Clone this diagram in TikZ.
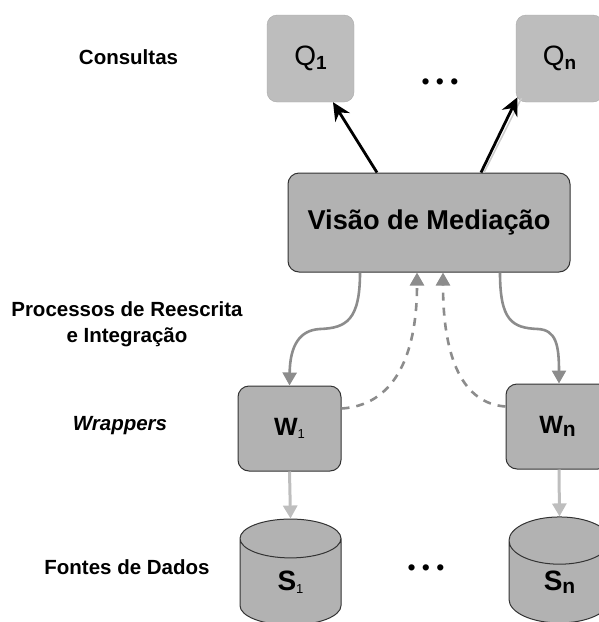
\documentclass[tikz,border=0pt]{standalone}
\usepackage{fontspec}
\setmainfont{Liberation Sans}
\usepackage{tikz}
\usetikzlibrary{arrows.meta, positioning, shapes.geometric, calc}

\definecolor{boxgray}{HTML}{B2B2B2}
\definecolor{querygray}{HTML}{BDBDBD}
\definecolor{flowgray}{HTML}{8C8C8C}
\definecolor{datagray}{HTML}{BEBEBE}
\newcommand{\lowtxt}[2]{\raisebox{-3.5pt}{\fontsize{#1}{#1}\selectfont #2}}

\tikzset{
  query/.style={draw=querygray!90!black, fill=querygray, rounded corners=10pt, minimum width=87pt, minimum height=87pt, inner sep=0pt},
  wrapbox/.style={draw=black!80, line width=1pt, fill=boxgray, rounded corners=11pt, minimum width=103pt, minimum height=85pt, inner sep=0pt},
  source/.style={cylinder, shape border rotate=90, shape aspect=1.5, draw=black!80, line width=1pt, fill=boxgray, minimum width=101pt, minimum height=106pt, inner sep=0pt},
  sidelabel/.style={font=\bfseries\fontsize{20.5}{26}\selectfont, align=center},
  dots/.style={font=\fontsize{23}{23}\selectfont},
  answer/.style={-{Stealth[length=18pt,width=17pt]}, line width=2.8pt, black},
  rewrite/.style={-{Triangle[length=13pt,width=14pt]}, line width=2.6pt, flowgray},
  result/.style={-{Triangle[length=13pt,width=14pt]}, line width=2.6pt, flowgray, dash pattern=on 8pt off 7pt},
  fetch/.style={-{Triangle[length=13pt,width=14pt]}, line width=3pt, datagray}
}

\begin{document}
\begin{tikzpicture}[x=1pt, y=-1pt]
  \clip (0,0) rectangle (599,622);

  % Queries
  \node[query] (q1) at (310.5,58.5) {\raisebox{3pt}{\fontsize{28}{28}\selectfont Q\lowtxt{19}{\bfseries 1}}};
  \node[query] (qn) at (559.5,58.5) {\raisebox{3pt}{\fontsize{28}{28}\selectfont Q\lowtxt{19}{\bfseries n}}};
  \node[dots] (qdots) at (440,84) {• • •};

  % Mediation view
  \node[wrapbox, minimum width=282pt, minimum height=99pt] (view) at (429,222.5) {\bfseries\fontsize{27.2}{28}\selectfont Visão de Mediação};

  % Wrappers
  \node[wrapbox] (w1) at (289.5,428.5) {\fontsize{25}{25}\selectfont\bfseries W\lowtxt{13}{\mdseries 1}};
  \node[wrapbox] (wn) at (557.5,426.5) {\fontsize{25}{25}\selectfont\bfseries W\lowtxt{21}{n}};

  % Data sources
  \node[source] (s1) at (290.5,582) {\raisebox{-14pt}{\fontsize{28}{28}\selectfont\bfseries S\lowtxt{13}{\mdseries 1}}};
  \node[source] (sn) at (559.5,582) {\raisebox{-13pt}{\fontsize{28}{28}\selectfont\bfseries S\lowtxt{21}{n}}};
  \node[dots] (sdots) at (426,570) {• • •};

  % Side labels
  \node[sidelabel] (lblq) at (128.5,57) {Consultas};
  \node[sidelabel] (lblp) at (127,324) {Processos de Reescrita\\e Integração};
  \node[sidelabel, font=\bfseries\itshape\fontsize{20.5}{26}\selectfont] (lblw) at (120,426) {Wrappers};
  \node[sidelabel] (lbls) at (127,567) {Fontes de Dados};

  % Bends of the curved connectors
  \coordinate (bendl) at (320,329);
  \coordinate (bendr) at (538,329);

  % Arrows up to the queries
  \draw[line width=1.5pt, black!20] ([xshift=55pt]view.north) -- ([xshift=-38pt,yshift=4pt]qn.south);
  \draw[answer] ([xshift=-52pt]view.north) -- ([xshift=22.5pt]q1.south);
  \draw[answer] ([xshift=52pt]view.north) -- ([xshift=-42pt,yshift=5pt]qn.south);

  % Rewriting, going down
  \draw[rewrite] ([xshift=-69pt]view.south) .. controls +(0,48) and (346,328) .. (bendl) .. controls (300,330) and (290,345) .. (w1.north);
  \draw[rewrite] ([xshift=71pt]view.south) .. controls +(0,48) and (512,328) .. (bendr) .. controls (556,330) and (559,345) .. ([xshift=1.5pt]wn.north);

  % Integration, going back up
  \draw[result] ([yshift=20pt]w1.east) .. controls +(50,-3) and (417,360) .. ([xshift=-12pt]view.south);
  \draw[result] ([yshift=20pt]wn.west) .. controls +(-42,-3) and (443,360) .. ([xshift=14pt]view.south);

  % Sources to wrappers
  \draw[fetch] (w1.south) -- (s1.top);
  \draw[fetch] ([xshift=1.5pt]wn.south) -- (sn.top);
\end{tikzpicture}
\end{document}
